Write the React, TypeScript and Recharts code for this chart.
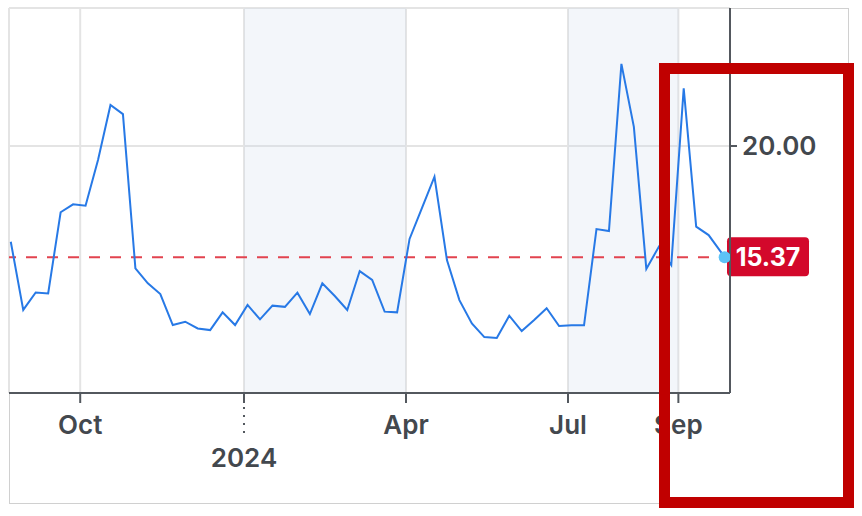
import React from 'react';
import {
  CartesianGrid,
  Line,
  LineChart,
  ReferenceArea,
  ReferenceLine,
  XAxis,
  YAxis,
} from 'recharts';

// weekly closes
const weekDates = [
  '2023-08-23', '2023-08-30', '2023-09-06', '2023-09-13', '2023-09-20', '2023-09-27',
  '2023-10-04', '2023-10-11', '2023-10-18', '2023-10-25', '2023-11-01', '2023-11-08',
  '2023-11-15', '2023-11-22', '2023-11-29', '2023-12-06', '2023-12-13', '2023-12-20',
  '2023-12-27', '2024-01-03', '2024-01-10', '2024-01-17', '2024-01-24', '2024-01-31',
  '2024-02-07', '2024-02-14', '2024-02-21', '2024-02-28', '2024-03-06', '2024-03-13',
  '2024-03-20', '2024-03-27', '2024-04-03', '2024-04-10', '2024-04-17', '2024-04-24',
  '2024-05-01', '2024-05-08', '2024-05-15', '2024-05-22', '2024-05-29', '2024-06-05',
  '2024-06-12', '2024-06-19', '2024-06-26', '2024-07-03', '2024-07-10', '2024-07-17',
  '2024-07-24', '2024-07-31', '2024-08-07', '2024-08-14', '2024-08-21', '2024-08-28',
  '2024-09-04', '2024-09-11', '2024-09-18', '2024-09-27',
];
const closeValues = [
  16.01, 13.17, 13.9, 13.86, 17.24, 17.57,
  17.51, 19.42, 21.71, 21.33, 14.9, 14.28,
  13.83, 12.54, 12.68, 12.4, 12.33, 13.07,
  12.54, 13.38, 12.78, 13.35, 13.3, 13.89,
  13.0, 14.28, 13.75, 13.17, 14.79, 14.42,
  13.1, 13.07, 16.13, 17.42, 18.72, 15.25,
  13.58, 12.61, 12.04, 12.0, 12.93, 12.29,
  12.75, 13.24, 12.5, 12.53, 12.53, 16.54,
  16.46, 23.42, 20.8, 14.88, 15.8, 15.04,
  22.4, 16.64, 16.29, 15.37,
];

const tickDates = ['2023-10-01', '2024-01-01', '2024-04-01', '2024-07-01', '2024-09-01'];
const tickLabels = ['Oct', '2024', 'Apr', 'Jul', 'Sep'];
const shadeStarts = ['2024-01-01', '2024-07-01'];
const shadeEnds = ['2024-04-01', '2024-09-01'];
const xRange = ['2023-08-22', '2024-09-30'];
const yTicks = [20];
const yRange = [9.71, 25.75];
const lastClose = 15.37;

const toTime = (d: string) => Date.parse(d);

const data = weekDates.map((d, i) => ({ t: toTime(d), v: closeValues[i] }));

const FONT = 'Inter, "Liberation Sans", Arial, sans-serif';
const AXIS = '#53585e';
const TEXT = '#43484e';

function DateTick(props: any) {
  const { x, y, payload } = props;
  const idx = tickDates.findIndex((d) => toTime(d) === payload.value);
  const label = tickLabels[idx] ?? '';
  const isYear = /^\d{4}$/.test(label);
  return (
    <g>
      {isYear && (
        <line x1={x} x2={x} y1={y + 4} y2={y + 30} stroke={AXIS} strokeWidth={2} strokeDasharray="2 6" />
      )}
      <text
        x={x}
        y={isYear ? y + 64 : y + 31}
        textAnchor="middle"
        fill={TEXT}
        fontSize={26}
        fontWeight={600}
        fontFamily={FONT}
      >
        {label}
      </text>
    </g>
  );
}

function PriceTag(props: any) {
  const { viewBox } = props;
  const x = viewBox.x + viewBox.width - 3;
  const y = viewBox.y;
  return (
    <g>
      <rect x={x} y={y - 20} width={82} height={39} rx={4} fill="#d3082b" />
      <text x={x + 41} y={y + 9} textAnchor="middle" fill="#fff" fontSize={25} fontWeight={700} fontFamily={FONT}>
        {lastClose.toFixed(2)}
      </text>
    </g>
  );
}

export default function App() {
  return (
    <div style={{ position: 'absolute', left: 0, top: 0, width: 862, height: 516, background: '#fff' }}>
      <div
        style={{
          position: 'absolute',
          left: 9,
          top: 8,
          width: 840,
          height: 496,
          border: '1px solid #d0d0d0',
          boxSizing: 'border-box',
        }}
      />
      <div style={{ position: 'absolute', left: 0, top: 0 }}>
        <LineChart width={862} height={516} data={data} margin={{ top: 8, left: 9, right: 32, bottom: 83 }}>
          {shadeStarts.map((s, i) => (
            <ReferenceArea
              key={s}
              x1={toTime(s)}
              x2={toTime(shadeEnds[i])}
              fill="#c8d8e8"
              fillOpacity={0.22}
              stroke="none"
              ifOverflow="hidden"
            />
          ))}
          <CartesianGrid stroke="#e4e4e4" strokeWidth={2} />
          <XAxis
            dataKey="t"
            type="number"
            domain={xRange.map(toTime)}
            ticks={tickDates.map(toTime)}
            allowDataOverflow
            height={40}
            tickSize={10}
            tickMargin={0}
            tick={<DateTick />}
            axisLine={{ stroke: AXIS, strokeWidth: 2 }}
            tickLine={{ stroke: AXIS, strokeWidth: 2 }}
          />
          <YAxis
            orientation="right"
            type="number"
            domain={yRange}
            ticks={yTicks}
            allowDataOverflow
            width={100}
            tickSize={7}
            tickMargin={5}
            tickFormatter={(v: number) => v.toFixed(2)}
            tick={{ fill: TEXT, fontSize: 26, fontWeight: 600, fontFamily: FONT }}
            axisLine={{ stroke: AXIS, strokeWidth: 2 }}
            tickLine={{ stroke: AXIS, strokeWidth: 2 }}
          />
          <ReferenceLine
            y={lastClose}
            stroke="#e2434f"
            strokeWidth={2}
            strokeDasharray="11 10"
            ifOverflow="visible"
            label={<PriceTag />}
          />
          <Line
            type="linear"
            dataKey="v"
            stroke="#2779e6"
            strokeWidth={2}
            isAnimationActive={false}
            activeDot={false}
            dot={(p: any) =>
              p.index === data.length - 1 ? (
                <circle key="last" cx={p.cx} cy={p.cy} r={6} fill="#5cc3f7" />
              ) : (
                <g key={p.index} />
              )
            }
          />
        </LineChart>
      </div>
      <div
        style={{
          position: 'absolute',
          left: 659,
          top: 63,
          width: 195,
          height: 445,
          border: '11px solid #c00000',
          boxSizing: 'border-box',
        }}
      />
    </div>
  );
}
